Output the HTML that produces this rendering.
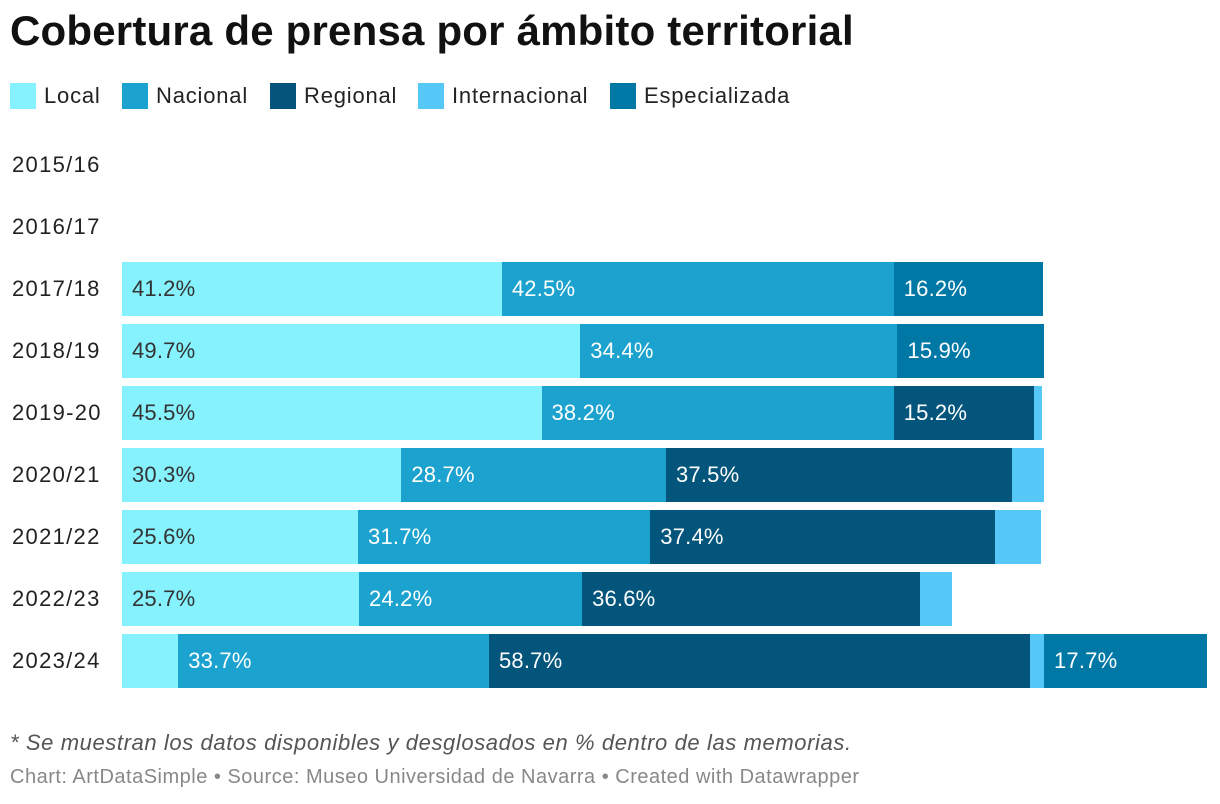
<!DOCTYPE html>
<html><head><meta charset="utf-8">
<style>
body{margin:0;width:1220px;height:804px;background:#fff;font-family:"Liberation Sans",sans-serif;overflow:hidden;position:relative}
h1{position:absolute;left:10px;top:7px;margin:0;font-size:42px;font-weight:bold;color:#111;letter-spacing:0.2px}
.leg{position:absolute;top:83px;display:flex;align-items:center;font-size:22px;color:#222;letter-spacing:0.8px}
.leg span.sw{width:26px;height:26px;margin-right:8px;display:inline-block}
.yl{position:absolute;left:12px;font-size:22px;color:#222;letter-spacing:1.3px}
.seg{position:absolute;height:54px}
.lab{position:absolute;font-size:22px;line-height:54px;letter-spacing:0.2px}
.note{position:absolute;left:10px;top:730px;font-size:22px;font-style:italic;color:#555;letter-spacing:0.6px}
.src{position:absolute;left:10px;top:766px;font-size:20px;color:#888;letter-spacing:0.5px}
</style></head><body>
<h1>Cobertura de prensa por ámbito territorial</h1>
<div id="legend"></div>
<div id="chart"></div>
<div class="note">* Se muestran los datos disponibles y desglosados en % dentro de las memorias.</div>
<div class="src">Chart: ArtDataSimple • Source: Museo Universidad de Navarra • Created with Datawrapper</div>
<script>
const categories=["2015/16","2016/17","2017/18","2018/19","2019-20","2020/21","2021/22","2022/23","2023/24"];
const seriesNames=["Local","Nacional","Regional","Internacional","Especializada"];
const local=[0,0,41.2,49.7,45.5,30.3,25.6,25.7,6.1];
const nacional=[0,0,42.5,34.4,38.2,28.7,31.7,24.2,33.7];
const regional=[0,0,0,0,15.2,37.5,37.4,36.6,58.7];
const internacional=[0,0,0,0,0.9,3.5,5.0,3.5,1.5];
const especializada=[0,0,16.2,15.9,0,0,0,0,17.7];
const colors=["#86f2fd","#1ba2ce","#03557c","#55c8f7","#0078a6"];
const series=[local,nacional,regional,internacional,especializada];
const x0=122,pxPer=9.22;
const xs=v=>v*pxPer;
const yRow=i=>138+i*62;
const leg=document.getElementById('legend');
const legX=[10,122,270,418,610];
seriesNames.forEach((n,i)=>{
  const d=document.createElement('div');d.className='leg';d.style.left=legX[i]+'px';
  
  
  d.innerHTML='<span class="sw" style="background:'+colors[i]+'"></span>'+n;
  leg.appendChild(d);
});
const ch=document.getElementById('chart');
categories.forEach((c,i)=>{
  const y=yRow(i);
  const l=document.createElement('div');l.className='yl';l.textContent=c;
  l.style.top=(y+14)+'px';
  
  
  ch.appendChild(l);
  let acc=0;
  series.forEach((s,j)=>{
    const v=s[i];if(!v)return;
    const b=document.createElement('div');b.className='seg';
    b.style.left=(x0+xs(acc))+'px';b.style.top=y+'px';b.style.width=xs(v)+'px';b.style.background=colors[j];
    
    
    ch.appendChild(b);
    if(v>=8){
      const t=document.createElement('div');t.className='lab';
      t.style.left=(x0+xs(acc)+10)+'px';t.style.top=y+'px';
      t.style.color=j===0?'#333':'#fff';
      t.textContent=v.toFixed(1)+'%';
      
      
      ch.appendChild(t);
    }
    acc+=v;
  });
});
</script>
</body></html>
